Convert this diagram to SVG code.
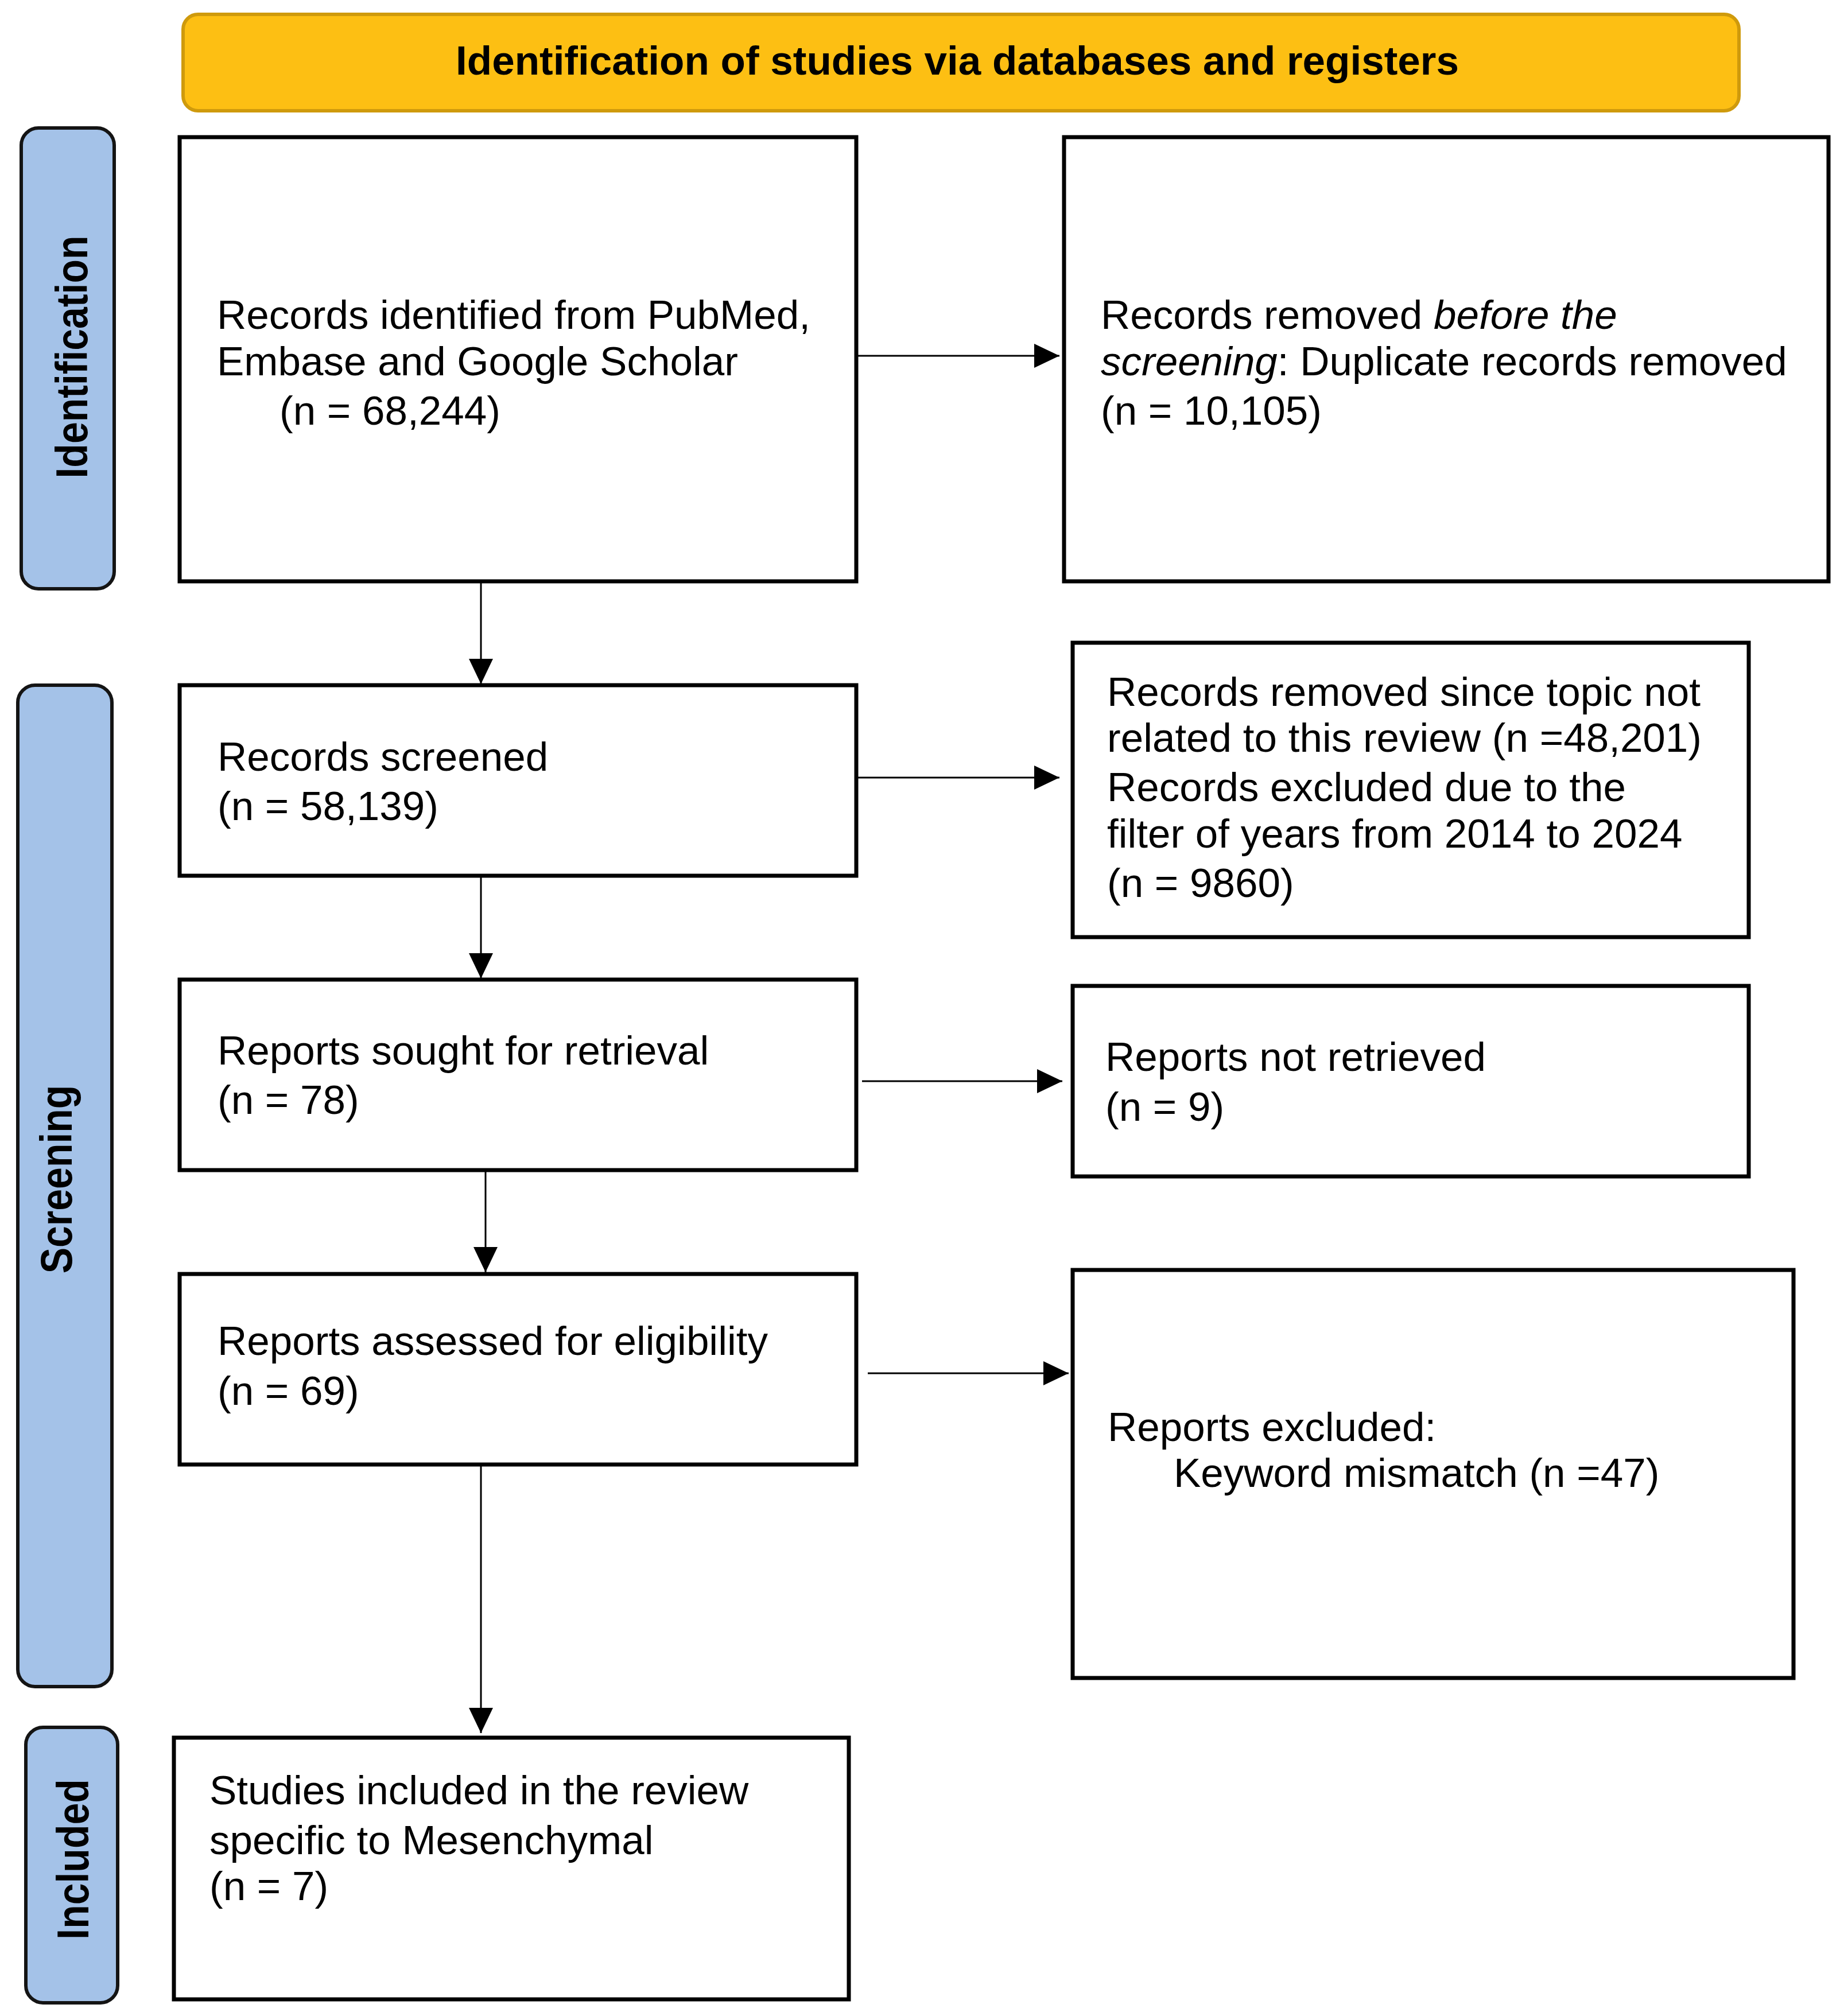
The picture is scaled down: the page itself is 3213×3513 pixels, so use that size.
<svg xmlns="http://www.w3.org/2000/svg" width="3213" height="3513" viewBox="0 0 3213 3513">
<style>
.box{fill:#ffffff;stroke:#000000;stroke-width:7}
.lab{fill:#a4c2e8;stroke:#141414;stroke-width:6}
.hdr{fill:#fdbf13;stroke:#cf9a0c;stroke-width:6}
.t{font-family:"Liberation Sans",Arial,sans-serif;font-size:71px;fill:#000000}
.lt{font-family:"Liberation Sans",Arial,sans-serif;font-size:68px;font-weight:bold;fill:#000000}
.ht{font-family:"Liberation Sans",Arial,sans-serif;font-size:71px;font-weight:bold;fill:#000000}
.c{stroke:#000000;stroke-width:3;fill:none}
</style>
<defs>
<marker id="ahv" markerWidth="44" markerHeight="42" refX="44" refY="21" orient="auto" markerUnits="userSpaceOnUse" viewBox="0 0 44 42">
<path d="M0,0 L44,21 L0,42 Z" fill="#000000"/>
</marker>
</defs>
<rect width="3213" height="3513" fill="#ffffff"/>

<g id="header">
<rect class="hdr" x="319" y="25" width="2711" height="168" rx="26"/>
<text class="ht" x="1668" y="130" text-anchor="middle">Identification of studies via databases and registers</text>
</g>

<g id="label-identification">
<rect class="lab" x="37" y="223" width="162" height="803" rx="30"/>
<text class="lt" transform="translate(152,622) rotate(-90) scale(1,1.15)" text-anchor="middle">Identification</text>
</g>
<g id="label-screening">
<rect class="lab" x="31" y="1194" width="164" height="1745" rx="30"/>
<text class="lt" transform="translate(125,2055) rotate(-90) scale(1,1.15)" text-anchor="middle">Screening</text>
</g>
<g id="label-included">
<rect class="lab" x="45" y="3010" width="160" height="480" rx="30"/>
<text class="lt" transform="translate(154,3240) rotate(-90) scale(1,1.15)" text-anchor="middle">Included</text>
</g>

<g id="identified">
<rect class="box" x="313" y="239" width="1179" height="774"/>
<text class="t" x="378" y="573">Records identified from PubMed,</text>
<text class="t" x="378" y="654">Embase and Google Scholar</text>
<text class="t" x="487" y="740">(n = 68,244)</text>
</g>
<g id="removed-before">
<rect class="box" x="1854" y="239" width="1332" height="774"/>
<text class="t" x="1918" y="573">Records removed <tspan font-style="italic">before the</tspan></text>
<text class="t" x="1918" y="654"><tspan font-style="italic">screening</tspan>: Duplicate records removed</text>
<text class="t" x="1918" y="740">(n = 10,105)</text>
</g>
<g id="screened">
<rect class="box" x="313" y="1194" width="1179" height="332"/>
<text class="t" x="379" y="1343">Records screened</text>
<text class="t" x="379" y="1429">(n = 58,139)</text>
</g>
<g id="removed-topic">
<rect class="box" x="1869" y="1120" width="1178" height="513"/>
<text class="t" x="1929" y="1230">Records removed since topic not</text>
<text class="t" x="1929" y="1310">related to this review (n =48,201)</text>
<text class="t" x="1929" y="1396">Records excluded due to the</text>
<text class="t" x="1929" y="1477">filter of years from 2014 to 2024</text>
<text class="t" x="1929" y="1563">(n = 9860)</text>
</g>
<g id="sought">
<rect class="box" x="313" y="1707" width="1179" height="332"/>
<text class="t" x="379" y="1855">Reports sought for retrieval</text>
<text class="t" x="379" y="1941">(n = 78)</text>
</g>
<g id="not-retrieved">
<rect class="box" x="1869" y="1718" width="1178" height="332"/>
<text class="t" x="1926" y="1866">Reports not retrieved</text>
<text class="t" x="1926" y="1953">(n = 9)</text>
</g>
<g id="assessed">
<rect class="box" x="313" y="2220" width="1179" height="332"/>
<text class="t" x="379" y="2361">Reports assessed for eligibility</text>
<text class="t" x="379" y="2448">(n = 69)</text>
</g>
<g id="excluded">
<rect class="box" x="1869" y="2213" width="1256" height="711"/>
<text class="t" x="1930" y="2511">Reports excluded:</text>
<text class="t" x="2045" y="2591">Keyword mismatch (n =47)</text>
</g>
<g id="included">
<rect class="box" x="303" y="3028" width="1176" height="456"/>
<text class="t" x="365" y="3144">Studies included in the review</text>
<text class="t" x="365" y="3231">specific to Mesenchymal</text>
<text class="t" x="365" y="3311">(n = 7)</text>
</g>

<g id="connectors">
<line class="c" x1="1492" y1="620" x2="1846" y2="620" marker-end="url(#ahv)"/>
<line class="c" x1="838" y1="1013" x2="838" y2="1192" marker-end="url(#ahv)"/>
<line class="c" x1="1492" y1="1355" x2="1846" y2="1355" marker-end="url(#ahv)"/>
<line class="c" x1="838" y1="1526" x2="838" y2="1705" marker-end="url(#ahv)"/>
<line class="c" x1="1502" y1="1884" x2="1851" y2="1884" marker-end="url(#ahv)"/>
<line class="c" x1="846" y1="2039" x2="846" y2="2217" marker-end="url(#ahv)"/>
<line class="c" x1="1512" y1="2393" x2="1862" y2="2393" marker-end="url(#ahv)"/>
<line class="c" x1="838" y1="2552" x2="838" y2="3020" marker-end="url(#ahv)"/>
</g>
</svg>
